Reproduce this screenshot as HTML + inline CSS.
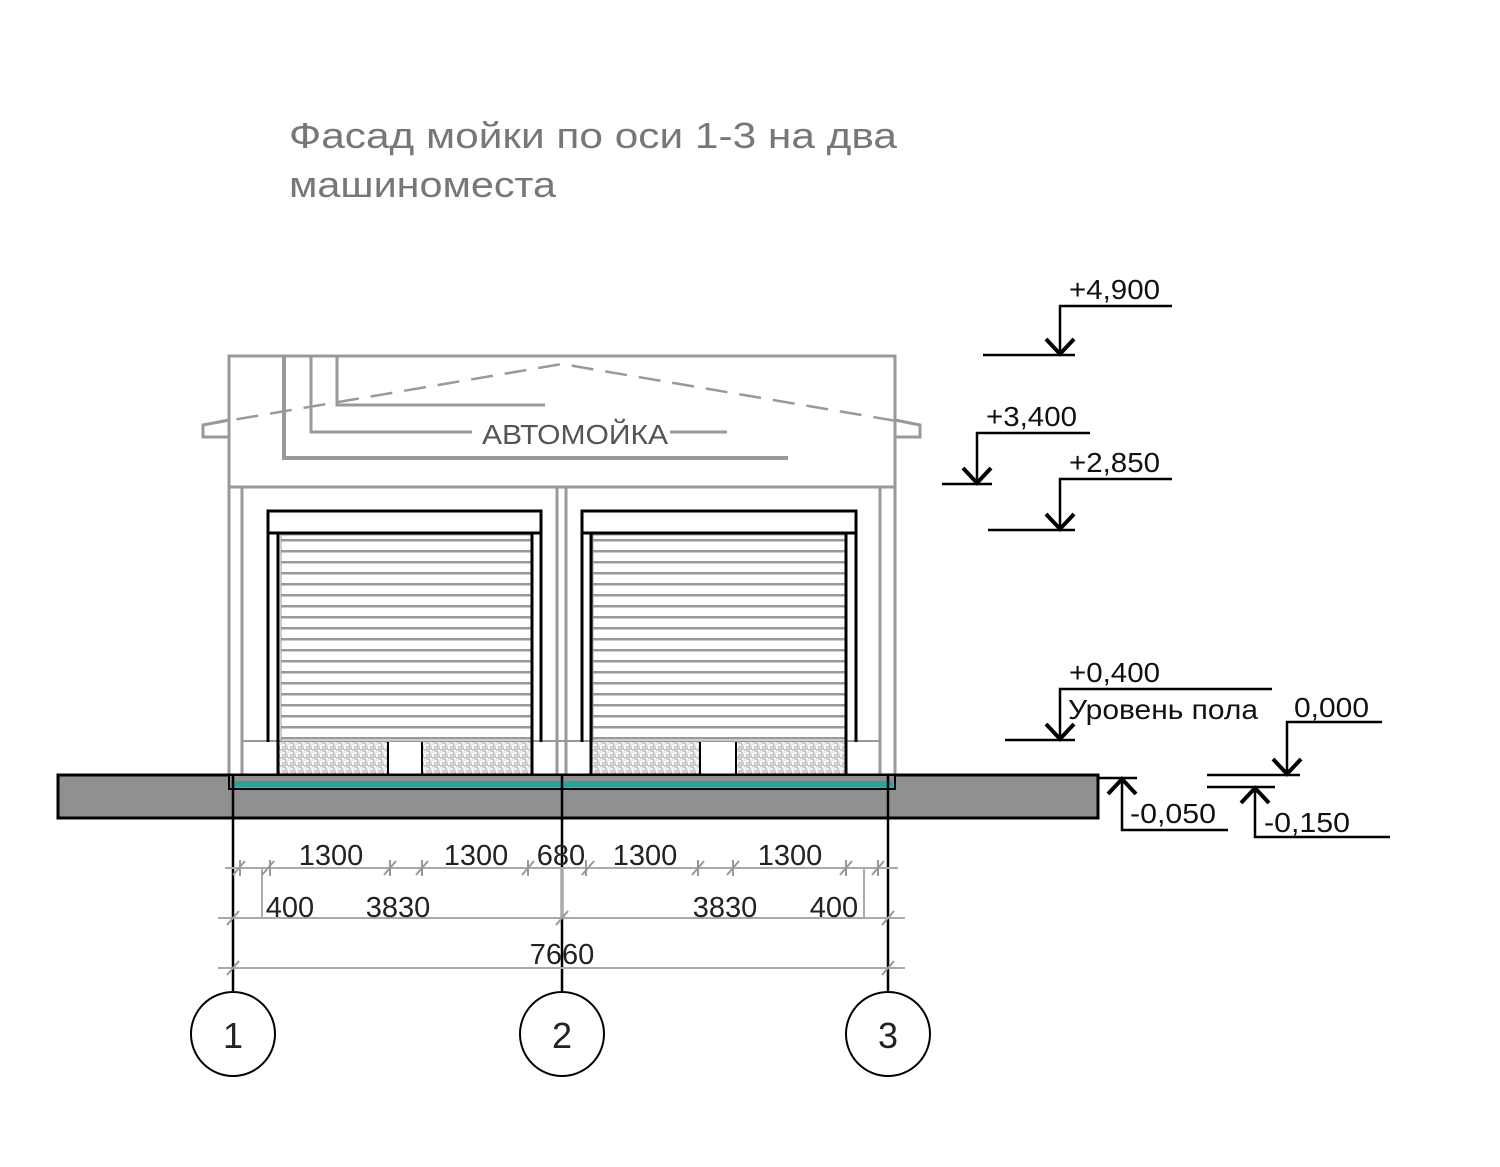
<!DOCTYPE html>
<html><head><meta charset="utf-8"><style>
html,body{margin:0;padding:0;background:#fff}
svg{display:block}
text{font-family:"Liberation Sans",Arial,sans-serif}
</style></head><body>
<svg width="1500" height="1167" viewBox="0 0 1500 1167" xmlns="http://www.w3.org/2000/svg">
<defs>
<pattern id="hatch" width="8" height="8" patternUnits="userSpaceOnUse">
<rect width="8" height="8" fill="#f2f2f2"/>
<path d="M0 6 L3 6 L3 3 L6 3 L6 0 M2 8 L5 8 L5 5 L8 5 L8 2" stroke="#aaa" stroke-width="1" fill="none"/>
</pattern>
<pattern id="slats" width="10" height="11" patternUnits="userSpaceOnUse">
<rect width="10" height="11" fill="#fff"/>
<rect y="0" width="10" height="2.5" fill="#999"/>
</pattern>
</defs>

<text x="289" y="148" font-size="36" fill="#777" textLength="608" lengthAdjust="spacingAndGlyphs">Фасад мойки по оси 1-3  на два</text>
<text x="289" y="197" font-size="36" fill="#777" textLength="267" lengthAdjust="spacingAndGlyphs">машиноместа</text>

<!-- building -->
<g stroke="#999" stroke-width="3" fill="none">
<rect x="229" y="356" width="666" height="131" fill="#fff"/>
<path d="M229 420 L203 425 L203 437 L229 437"/>
<path d="M895 420 L920 425 L920 437 L895 437"/>
<path d="M203 425 L562 364 L920 425" stroke-dasharray="22,12" stroke-width="2.5"/>
<path d="M284 356 L284 458 L788 458" stroke-width="4"/>
<path d="M311 356 L311 432 L472 432 M670 432 L727 432"/>
<path d="M337 356 L337 405 L545 405"/>
<line x1="229" y1="487" x2="229" y2="775"/>
<line x1="242" y1="487" x2="242" y2="775"/>
<line x1="557" y1="487" x2="557" y2="775"/>
<line x1="566" y1="487" x2="566" y2="775"/>
<line x1="880" y1="487" x2="880" y2="775"/>
<line x1="895" y1="487" x2="895" y2="775"/>
<line x1="242" y1="741" x2="880" y2="741" stroke-width="2"/>
</g>
<text x="575" y="444" font-size="28" fill="#555" text-anchor="middle" textLength="186" lengthAdjust="spacingAndGlyphs">АВТОМОЙКА</text>

<!-- doors -->
<g>
<rect x="281" y="535" width="250" height="206" fill="url(#slats)"/>
<rect x="593" y="535" width="252" height="206" fill="url(#slats)"/>
<g stroke="#999" stroke-width="1" fill="none"><rect x="281" y="535" width="250" height="206"/><rect x="593" y="535" width="252" height="206"/></g>
<rect x="279" y="742" width="109" height="33" fill="url(#hatch)"/>
<rect x="422" y="742" width="109" height="33" fill="url(#hatch)"/>
<rect x="591" y="742" width="109" height="33" fill="url(#hatch)"/>
<rect x="736" y="742" width="110" height="33" fill="url(#hatch)"/>
<g stroke="#000" stroke-width="3" fill="none">
<rect x="268" y="511" width="273" height="22" fill="#fff"/>
<rect x="582" y="511" width="274" height="22" fill="#fff"/>
<line x1="268" y1="533" x2="268" y2="742"/><line x1="541" y1="533" x2="541" y2="742"/>
<line x1="278" y1="533" x2="278" y2="775"/><line x1="532" y1="533" x2="532" y2="775"/>
<line x1="582" y1="533" x2="582" y2="742"/><line x1="856" y1="533" x2="856" y2="742"/>
<line x1="591" y1="533" x2="591" y2="775"/><line x1="846" y1="533" x2="846" y2="775"/>
<line x1="388" y1="742" x2="388" y2="775" stroke-width="2"/><line x1="422" y1="742" x2="422" y2="775" stroke-width="2"/>
<line x1="700" y1="742" x2="700" y2="775" stroke-width="2"/><line x1="736" y1="742" x2="736" y2="775" stroke-width="2"/>
</g>
</g>

<!-- slab -->
<rect x="58" y="775" width="1040" height="43" fill="#909090" stroke="#000" stroke-width="3"/>
<rect x="229" y="775" width="666" height="14" fill="#909090" stroke="#000" stroke-width="2"/>
<rect x="231" y="781" width="662" height="6" fill="#2aa39a"/>

<!-- axes -->
<g stroke="#000" stroke-width="2.5" fill="none">
<line x1="233" y1="775" x2="233" y2="992"/>
<line x1="562" y1="775" x2="562" y2="992"/>
<line x1="888" y1="775" x2="888" y2="992"/>
<circle cx="233" cy="1034" r="42" stroke-width="2"/>
<circle cx="562" cy="1034" r="42" stroke-width="2"/>
<circle cx="888" cy="1034" r="42" stroke-width="2"/>
</g>
<g font-size="36" fill="#222" text-anchor="middle">
<text x="233" y="1048">1</text><text x="562" y="1048">2</text><text x="888" y="1048">3</text>
</g>

<!-- dimensions -->
<g stroke="#aaa" stroke-width="2" fill="none">
<line x1="225" y1="868" x2="898" y2="868"/>
<line x1="218" y1="918" x2="905" y2="918"/>
<line x1="218" y1="968" x2="905" y2="968"/>
<line x1="262" y1="868" x2="262" y2="918"/>
<line x1="864" y1="868" x2="864" y2="918"/>
<line x1="562" y1="868" x2="562" y2="918"/>
<g stroke="#999">
<path d="M233 875 l12 -14 M262 875 l12 -14 M384 875 l12 -14 M416 875 l12 -14 M522 875 l12 -14 M582 875 l12 -14 M692 875 l12 -14 M727 875 l12 -14 M840 875 l12 -14 M872 875 l12 -14"/>
<path d="M227 925 l12 -14 M556 925 l12 -14 M882 925 l12 -14"/>
<path d="M227 975 l12 -14 M882 975 l12 -14"/>
<path d="M240 860 v16 M270 860 v16 M390 860 v16 M422 860 v16 M528 860 v16 M586 860 v16 M698 860 v16 M733 860 v16 M846 860 v16 M878 860 v16"/>
</g>
</g>
<g font-size="29" fill="#222" text-anchor="middle">
<text x="331" y="865">1300</text><text x="476" y="865">1300</text><text x="561" y="865">680</text>
<text x="645" y="865">1300</text><text x="790" y="865">1300</text>
<text x="290" y="917">400</text><text x="398" y="917">3830</text>
<text x="725" y="917">3830</text><text x="834" y="917">400</text>
<text x="562" y="964">7660</text>
</g>

<!-- levels -->
<g stroke="#000" stroke-width="2.5" fill="none">
<path d="M1172 306 H1060 V355 M983 355 H1075"/>
<path d="M1090 433 H977 V484 M942 484 H992"/>
<path d="M1172 479 H1060 V530 M988 530 H1075"/>
<path d="M1272 689 H1060 V740 M1005 740 H1075"/>
<path d="M1382 722 H1287 V775 M1207 775 H1300"/>
<path d="M1207 787 H1275 M1255 787 V837 H1390"/>
<path d="M1098 778 H1137 M1122 778 V830 H1228"/>
</g>
<g stroke="#000" stroke-width="4" fill="none">
<path d="M1046 339 L1060 354 L1074 339"/>
<path d="M963 468 L977 483 L991 468"/>
<path d="M1046 514 L1060 529 L1074 514"/>
<path d="M1046 724 L1060 739 L1074 724"/>
<path d="M1273 759 L1287 774 L1301 759"/>
<path d="M1241 803 L1255 788 L1269 803"/>
<path d="M1108 794 L1122 779 L1136 794"/>
</g>
<g font-size="28" fill="#111">
<text x="1069" y="299" textLength="91" lengthAdjust="spacingAndGlyphs">+4,900</text>
<text x="986" y="426" textLength="91" lengthAdjust="spacingAndGlyphs">+3,400</text>
<text x="1069" y="472" textLength="91" lengthAdjust="spacingAndGlyphs">+2,850</text>
<text x="1069" y="682" textLength="91" lengthAdjust="spacingAndGlyphs">+0,400</text>
<text x="1068" y="719" textLength="190" lengthAdjust="spacingAndGlyphs">Уровень пола</text>
<text x="1294" y="717" textLength="75" lengthAdjust="spacingAndGlyphs">0,000</text>
<text x="1130" y="823" textLength="86" lengthAdjust="spacingAndGlyphs">-0,050</text>
<text x="1264" y="832" textLength="86" lengthAdjust="spacingAndGlyphs">-0,150</text>
</g>
</svg>
</body></html>
